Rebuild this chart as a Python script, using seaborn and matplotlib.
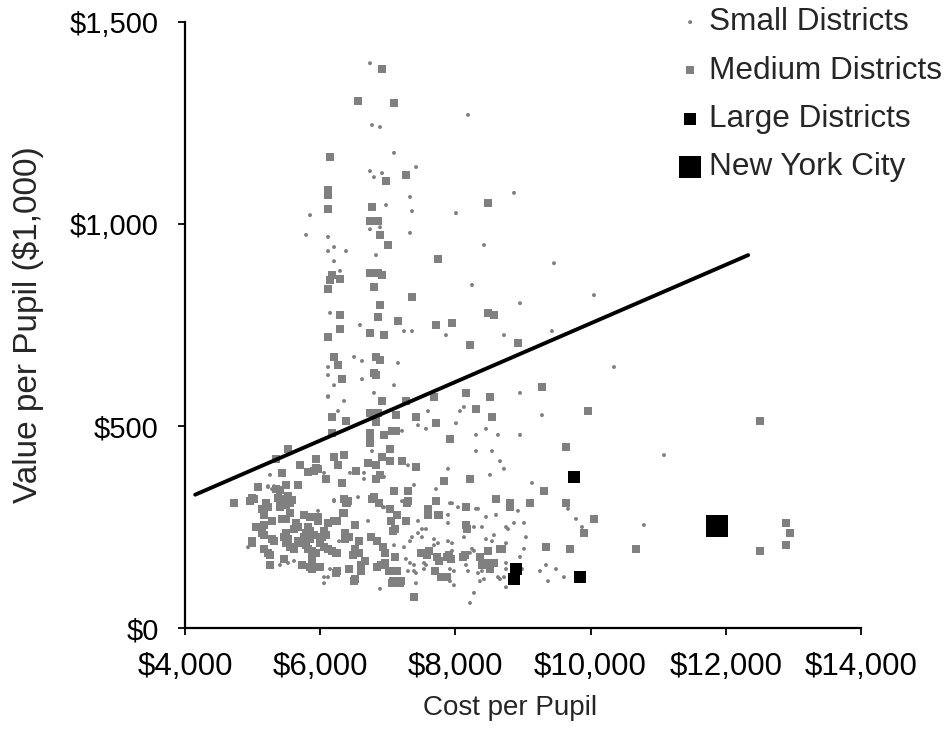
import matplotlib
matplotlib.use("Agg")
import matplotlib.pyplot as plt
import seaborn as sns
from matplotlib.ticker import FuncFormatter

# district data (cost per pupil, value per pupil in $1,000)
small_cost = [6736, 8186, 6766, 6884, 7091, 7417, 6736, 6795, 6914, 7328, 6973, 7357, 8008, 5849,
              6736, 6884, 5790, 6115, 7328, 6115, 6204, 6381, 6825, 6204, 6293, 8245, 8866, 8422,
              9458, 8955, 10049, 6588, 7239, 7357, 7860, 8718, 6500, 6618, 7150, 6618, 7091, 6145,
              6115, 6115, 6204, 6795, 6115, 6352, 6263, 7594, 8126, 8067, 7446, 7564, 8008, 7209,
              8304, 6766, 7298, 8304, 6056, 5257, 6440, 6647, 6647, 6943, 7387, 7890, 5228, 5287,
              7712, 6204, 6559, 6943, 7209, 7919, 7949, 8038, 8304, 9428, 10345, 8955, 9280, 8452,
              8629, 8955, 8541, 8659, 8718, 11085, 8511, 9132, 9665, 8925, 8452, 8600, 8866, 9014,
              8748, 8777, 8392, 9783, 9872, 9043, 8570, 8452, 8541, 8748, 9014, 8955, 8748, 8748,
              8629, 8718, 8659, 8748, 8422, 8984, 9250, 9339, 9487, 9369, 9605, 10788, 5967, 4932,
              5612, 5523, 5405, 6056, 6115, 6056, 6145, 6204, 6278, 6707, 6929, 6884, 7446, 7446,
              7357, 7328, 7505, 7564, 7505, 7091, 7239, 7268, 7328, 7387, 7298, 7387, 7416, 7683,
              7683, 7742, 7416, 7535, 7564, 7535, 7890, 7890, 7890, 7949, 7919, 7978, 7919, 7978,
              7949, 8126, 8274, 8334, 8245, 8274, 8215, 8156, 8186, 8334, 8392, 8363, 8274, 8215,
              5228, 5316, 6204, 6115]
small_value = [1398, 1270, 1245, 1240, 1176, 1141, 1131, 1116, 1126, 1067, 1047, 1032, 1027, 1022,
               987, 992, 973, 968, 978, 933, 943, 933, 923, 908, 884, 849, 1077, 948,
               903, 804, 824, 750, 735, 735, 725, 725, 671, 661, 656, 616, 601, 780,
               646, 626, 601, 582, 572, 562, 537, 537, 547, 537, 502, 493, 507, 488,
               478, 438, 403, 438, 384, 379, 384, 384, 369, 374, 354, 394, 349, 344,
               344, 314, 324, 299, 314, 309, 309, 299, 295, 735, 646, 582, 527, 493,
               478, 478, 438, 413, 394, 428, 379, 359, 295, 290, 275, 280, 260, 260,
               250, 245, 250, 270, 250, 225, 230, 220, 215, 210, 196, 176, 161, 146,
               126, 126, 121, 101, 121, 146, 141, 156, 146, 116, 126, 255, 290, 200,
               166, 161, 156, 126, 126, 111, 146, 141, 215, 265, 299, 97, 265, 235,
               225, 215, 245, 245, 225, 205, 200, 171, 161, 156, 141, 141, 136, 220,
               205, 210, 111, 161, 156, 146, 260, 280, 215, 210, 146, 141, 116, 106,
               191, 225, 250, 295, 196, 191, 186, 156, 141, 136, 141, 116, 87, 62,
               351, 351, 317, 574]

medium_cost = [6914, 6559, 7091, 6145, 6973, 7269, 6115, 6115, 6115, 6766, 6736, 6854, 6884, 7003,
               7742, 6174, 6145, 6115, 6293, 6736, 6854, 6914, 6795, 7357, 6884, 8481, 8481, 8570,
               6293, 6854, 7150, 6293, 6736, 6943, 7712, 7949, 8215, 8925, 6204, 6263, 6825, 6884,
               6322, 6795, 6825, 6115, 6914, 7683, 8156, 7269, 6736, 6854, 7120, 8304, 6174, 6381,
               6825, 6825, 7417, 7712, 6174, 6736, 6736, 6736, 6943, 7062, 7120, 7919, 5523, 5346,
               5937, 6204, 6352, 7032, 6914, 7032, 7209, 7417, 5701, 6263, 6707, 6825, 5908, 5967,
               5435, 6529, 6884, 6086, 6322, 6825, 7831, 8215, 5671, 5494, 5346, 5080, 7091, 7298,
               6795, 6766, 6352, 6411, 6381, 4725, 4961, 5020, 5198, 5228, 5168, 5139, 5405, 5523,
               5494, 5553, 5405, 6352, 7032, 7298, 7712, 7594, 7594, 7594, 8156, 7742, 9280, 8511,
               8541, 9960, 12504, 9635, 8600, 8807, 8807, 9103, 9635, 9310, 10049, 9901, 9339, 9694,
               8481, 8689, 8659, 8452, 8570, 8511, 12889, 12948, 12889, 12504, 10670, 5287, 5435, 5494,
               5553, 5760, 5849, 5967, 5967, 6204, 6115, 5050, 5168, 5642, 5671, 5612, 5819, 5849,
               5790, 6056, 6086, 6026, 5168, 5139, 5494, 5464, 5523, 5494, 5287, 5316, 4991, 5168,
               5228, 5257, 5671, 5730, 5790, 5819, 5878, 5937, 5553, 5612, 5760, 5849, 5908, 5997,
               6056, 6115, 6174, 6233, 5878, 5878, 5849, 5878, 5730, 5464, 5257, 5997, 6233, 6396,
               6337, 6248, 6514, 6366, 6426, 6366, 6574, 6514, 6574, 6485, 6662, 6603, 6426, 6603,
               6514, 6248, 6248, 6751, 6840, 6929, 6958, 6840, 6899, 6958, 7017, 7076, 7194, 7135,
               7135, 7106, 6869, 7135, 7047, 7106, 7076, 7283, 7268, 7490, 7609, 7579, 7757, 7727,
               7757, 7698, 7786, 7875, 7387, 7905, 7875, 7934, 8111, 8141, 8156, 8171, 8363, 8392,
               5819, 5937, 5405, 5523, 4991, 5376, 5583, 6500, 7062, 7180, 4991]
medium_value = [1383, 1304, 1299, 1166, 1106, 1121, 1084, 1072, 1037, 1042, 1007, 1007, 973, 948,
                913, 874, 861, 839, 864, 879, 879, 874, 844, 819, 799, 1052, 780, 775,
                775, 770, 760, 740, 730, 725, 750, 755, 700, 705, 671, 651, 671, 663,
                616, 631, 626, 720, 562, 572, 582, 562, 532, 532, 527, 542, 522, 512,
                522, 510, 522, 507, 483, 483, 468, 458, 478, 488, 488, 468, 443, 418,
                418, 423, 428, 443, 423, 413, 413, 398, 403, 403, 408, 403, 389, 394,
                384, 389, 379, 369, 359, 369, 364, 369, 354, 354, 344, 349, 339, 339,
                324, 319, 319, 314, 309, 309, 314, 319, 309, 299, 280, 295, 319, 314,
                304, 309, 299, 285, 295, 314, 314, 295, 285, 280, 299, 280, 596, 572,
                522, 537, 512, 448, 319, 309, 299, 309, 309, 339, 270, 235, 200, 196,
                191, 196, 196, 161, 161, 146, 260, 235, 205, 191, 196, 265, 270, 270,
                285, 280, 275, 275, 265, 265, 260, 250, 255, 260, 250, 245, 250, 240,
                235, 240, 230, 225, 230, 235, 235, 225, 220, 210, 220, 215, 210, 196,
                186, 181, 215, 210, 205, 196, 191, 186, 200, 196, 225, 220, 230, 210,
                200, 196, 191, 186, 171, 161, 151, 146, 156, 171, 156, 151, 136, 309,
                285, 265, 255, 235, 225, 220, 215, 196, 186, 181, 166, 156, 146, 141,
                121, 186, 141, 225, 215, 200, 186, 151, 156, 161, 141, 116, 116, 111,
                141, 176, 309, 280, 265, 245, 240, 309, 265, 186, 191, 181, 280, 176,
                166, 141, 126, 126, 77, 181, 176, 171, 176, 181, 255, 245, 176, 156,
                387, 396, 342, 327, 322, 322, 317, 116, 111, 111, 215]

large_cost = [9754, 8896, 8866, 9842]
large_value = [374, 146, 121, 126]

nyc_cost = [11868]
nyc_value = [253]

# trend line end points
line_cost = [4150, 12330]
line_value = [330, 923]

sns.set_style("white")
plt.rcParams['font.family'] = ['Liberation Sans', 'DejaVu Sans']

fig = plt.figure(figsize=(9.46, 7.48), dpi=100)
ax = fig.add_axes([0.1956, 0.1604, 0.7146, 0.8102])

gray = '#808080'
sns.scatterplot(x=small_cost, y=small_value, ax=ax, marker='o', s=8, color=gray,
                edgecolor='none', label='Small Districts')
sns.scatterplot(x=medium_cost, y=medium_value, ax=ax, marker='s', s=32, color=gray,
                edgecolor='none', label='Medium Districts')
sns.scatterplot(x=large_cost, y=large_value, ax=ax, marker='s', s=75, color='black',
                edgecolor='none', label='Large Districts')
sns.scatterplot(x=nyc_cost, y=nyc_value, ax=ax, marker='s', s=250, color='black',
                edgecolor='none', label='New York City')
sns.lineplot(x=line_cost, y=line_value, ax=ax, color='black', linewidth=2.8)

ax.set_xlim(4000, 14000)
ax.set_ylim(0, 1500)
ax.set_xticks([4000, 6000, 8000, 10000, 12000, 14000])
ax.set_yticks([0, 500, 1000, 1500])
money = FuncFormatter(lambda v, p: '${:,.0f}'.format(v))
ax.xaxis.set_major_formatter(money)
ax.yaxis.set_major_formatter(money)

for side in ['top', 'right']:
    ax.spines[side].set_visible(False)
for side in ['left', 'bottom']:
    ax.spines[side].set_color('black')
    ax.spines[side].set_linewidth(1.6)

ax.tick_params(axis='both', direction='out', length=5, width=1.3, color='black',
               labelcolor='black')
ax.tick_params(axis='y', pad=14, labelsize=21)
ax.tick_params(axis='x', pad=12, labelsize=22.5)
ax.tick_params(left=True, bottom=True)

ax.set_xlabel('Cost per Pupil', fontsize=20)
ax.set_ylabel('Value per Pupil ($1,000)', fontsize=24)
ax.xaxis.set_label_coords(0.481, -0.11)
ax.yaxis.set_label_coords(-0.208, 0.5)

ax.legend(loc='upper left', bbox_to_anchor=(0.6995, 1.007), bbox_transform=fig.transFigure,
          frameon=False, fontsize=22.7, handletextpad=0.1, handlelength=1.0,
          labelspacing=0.58, borderaxespad=0)

fig.savefig('out.png', dpi=100)
